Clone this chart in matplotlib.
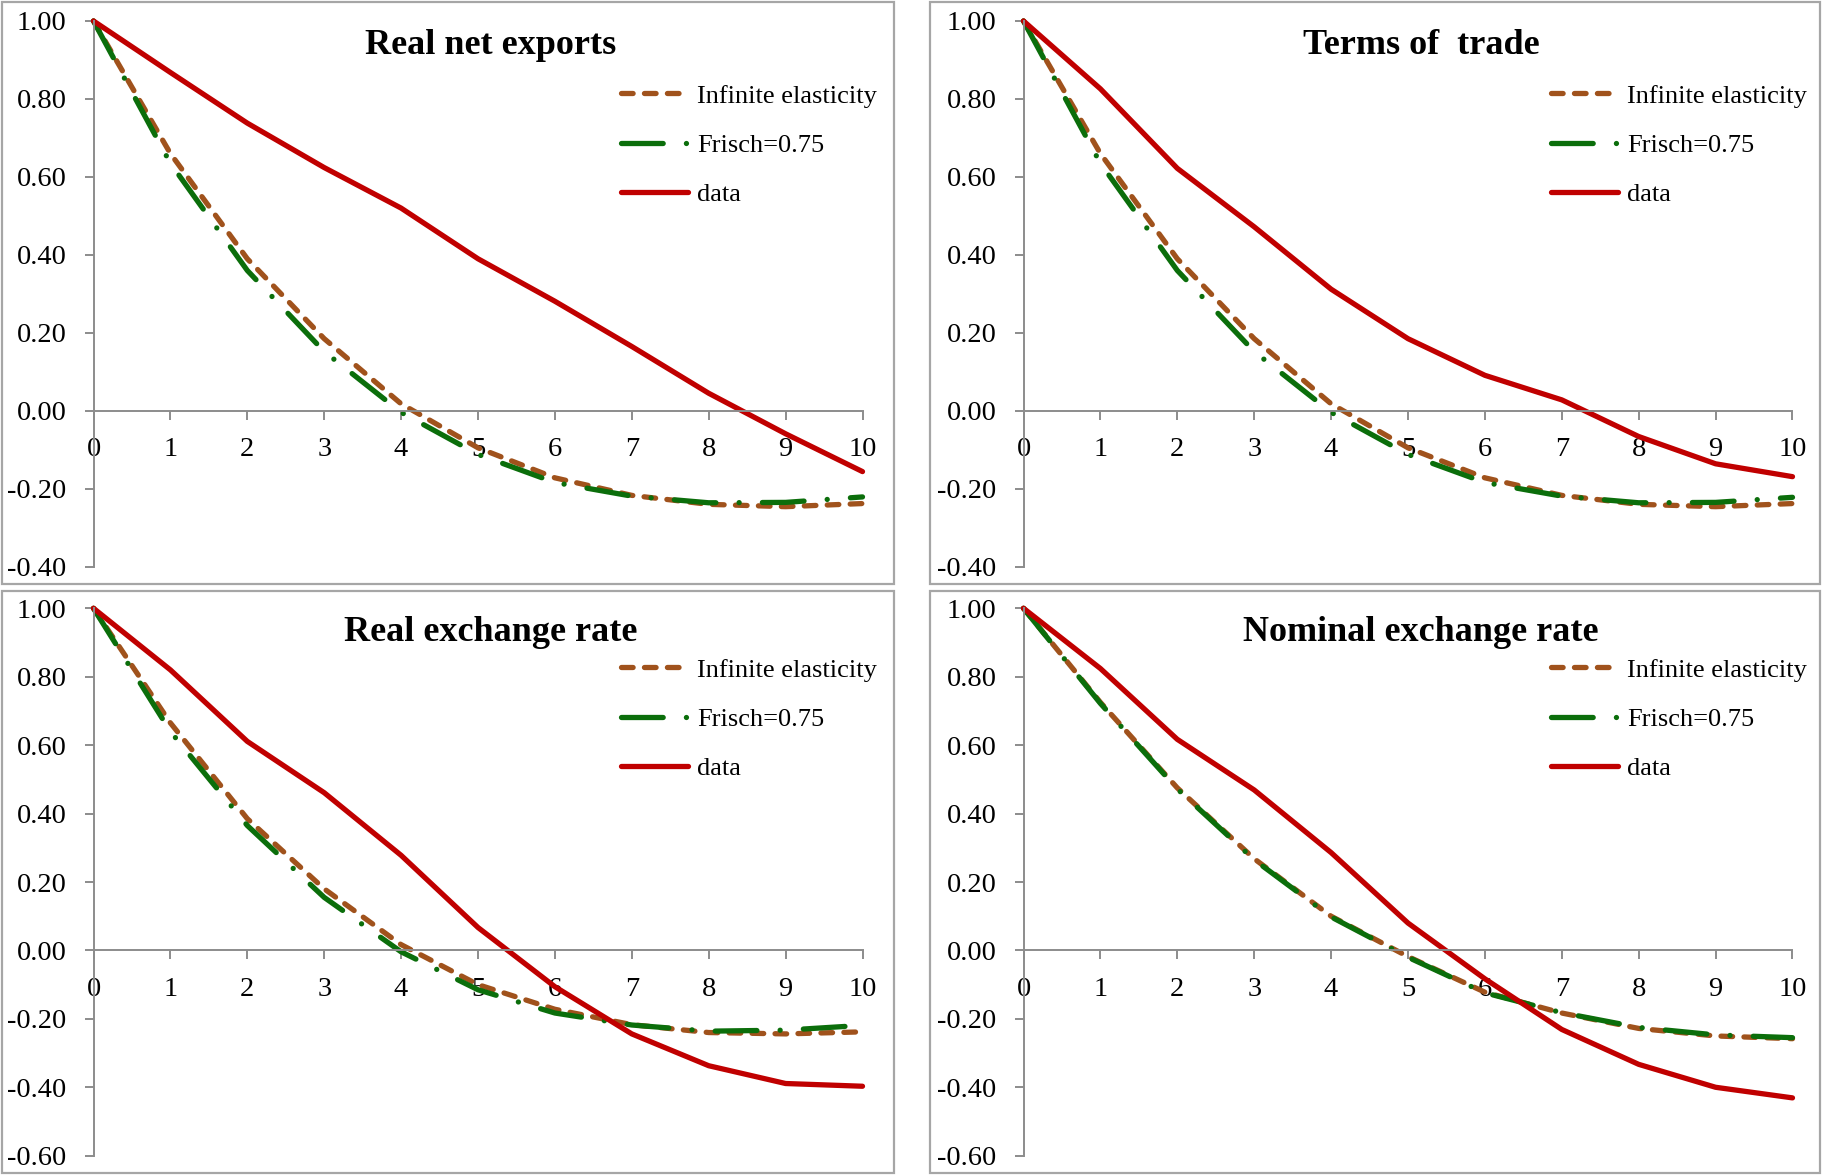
import matplotlib
matplotlib.use("Agg")
import matplotlib.pyplot as plt
from matplotlib.patches import Rectangle
from matplotlib.ticker import FuncFormatter, MultipleLocator

plt.rcParams["font.family"] = ["Liberation Serif", "DejaVu Serif"]

# horizon (quarters)
periods = list(range(11))

titles = ["Real net exports", "Terms of  trade", "Real exchange rate", "Nominal exchange rate"]
legend_labels = ["Infinite elasticity", "Frisch=0.75", "data"]

# values, one list per line and panel
nx_infinite = [1.00, 0.66, 0.39, 0.185, 0.018, -0.095, -0.172, -0.217, -0.240, -0.246, -0.238]
nx_frisch = [1.00, 0.635, 0.36, 0.152, -0.004, -0.112, -0.184, -0.219, -0.236, -0.235, -0.221]
nx_data = [1.00, 0.868, 0.738, 0.624, 0.52, 0.39, 0.281, 0.165, 0.045, -0.059, -0.156]

tot_infinite = [1.00, 0.66, 0.39, 0.185, 0.018, -0.095, -0.172, -0.217, -0.240, -0.246, -0.238]
tot_frisch = [1.00, 0.635, 0.36, 0.152, -0.004, -0.112, -0.184, -0.219, -0.236, -0.235, -0.222]
tot_data = [1.00, 0.826, 0.622, 0.472, 0.312, 0.185, 0.091, 0.028, -0.066, -0.136, -0.169]

rer_infinite = [1.00, 0.665, 0.385, 0.180, 0.017, -0.100, -0.172, -0.217, -0.240, -0.244, -0.238]
rer_frisch = [1.00, 0.64, 0.365, 0.155, -0.004, -0.115, -0.183, -0.218, -0.236, -0.233, -0.219]
rer_data = [1.00, 0.82, 0.611, 0.461, 0.278, 0.067, -0.106, -0.244, -0.337, -0.389, -0.397]

ner_infinite = [1.00, 0.725, 0.475, 0.268, 0.100, -0.018, -0.122, -0.183, -0.228, -0.250, -0.258]
ner_frisch = [1.00, 0.722, 0.472, 0.265, 0.098, -0.020, -0.124, -0.182, -0.225, -0.247, -0.255]
ner_data = [1.00, 0.824, 0.617, 0.469, 0.286, 0.080, -0.083, -0.231, -0.333, -0.400, -0.431]

y_bottoms = [-0.40, -0.40, -0.60, -0.60]

col_inf = "#A0521C"
col_frisch = "#0B6E0B"
col_data = "#C00000"
axis_gray = "#8C8C8C"

W, H = 1822, 1175
fig = plt.figure(figsize=(W / 100, H / 100), dpi=100)

# panel frames, pixel boxes (x0, y0, x1, y1) measured from the top left
frames = [(2, 2, 894, 584), (930, 2, 1820, 584), (2, 591, 894, 1173), (930, 591, 1820, 1173)]
for x0, y0, x1, y1 in frames:
    fig.patches.append(Rectangle((x0 / W, 1 - y1 / H), (x1 - x0) / W, (y1 - y0) / H,
                                 transform=fig.transFigure, fill=False,
                                 edgecolor="#A6A6A6", linewidth=1.6))

# plot areas: (left, top, bottom) in pixels
boxes = [(93.5, 21, 566.7), (1023.5, 21, 566.7), (93.5, 608.3, 1155.7), (1023.5, 608.3, 1155.7)]
plot_w = 769

series = [
    (nx_infinite, nx_frisch, nx_data),
    (tot_infinite, tot_frisch, tot_data),
    (rer_infinite, rer_frisch, rer_data),
    (ner_infinite, ner_frisch, ner_data),
]

lw = 3.8
for i, (left, top, bottom) in enumerate(boxes):
    ax = fig.add_axes([left / W, 1 - bottom / H, plot_w / W, (bottom - top) / H])
    inf_vals, fr_vals, data_vals = series[i]

    ax.plot(periods, inf_vals, color=col_inf, lw=lw, linestyle=(0, (2.2, 2.15)),
            dash_capstyle="round", solid_capstyle="round", label=legend_labels[0], clip_on=False)
    ax.plot(periods, fr_vals, color=col_frisch, lw=lw, linestyle=(0, (7.9, 4.4, 0.01, 4.4)),
            dash_capstyle="round", solid_capstyle="round", label=legend_labels[1], clip_on=False)
    ax.plot(periods, data_vals, color=col_data, lw=lw, solid_capstyle="round",
            label=legend_labels[2], clip_on=False)

    ax.set_xlim(0, 10)
    ax.set_ylim(y_bottoms[i], 1.0)
    ax.xaxis.set_major_locator(MultipleLocator(1))
    ax.yaxis.set_major_locator(MultipleLocator(0.2))
    ax.yaxis.set_major_formatter(FuncFormatter(lambda v, p: f"{round(v, 2) + 0.0:.2f}"))

    for s in ["top", "right"]:
        ax.spines[s].set_visible(False)
    ax.spines["bottom"].set_position(("data", 0))
    for s in ["bottom", "left"]:
        ax.spines[s].set_color(axis_gray)
        ax.spines[s].set_linewidth(1.4)
    ax.tick_params(axis="both", direction="out", length=6.5, width=1.4, color=axis_gray,
                   labelsize=20.5, labelcolor="black")
    ax.tick_params(axis="x", pad=12.5)
    ax.tick_params(axis="y", pad=13)
    ax.patch.set_alpha(0)

    ax.text(0.517, 1 - 33 / (bottom - top), titles[i], transform=ax.transAxes,
            ha="center", va="baseline", fontsize=26, fontweight="bold")

    mid_row = 145 - 21 if i < 2 else 719 - 608.3
    ax.legend(loc="center left", bbox_to_anchor=(527 / plot_w, 1 - mid_row / (bottom - top)),
              frameon=False, fontsize=19, handlelength=2.55, handletextpad=0.35,
              labelspacing=0.97, borderpad=0, borderaxespad=0)

fig.savefig("out.png", dpi=100)
